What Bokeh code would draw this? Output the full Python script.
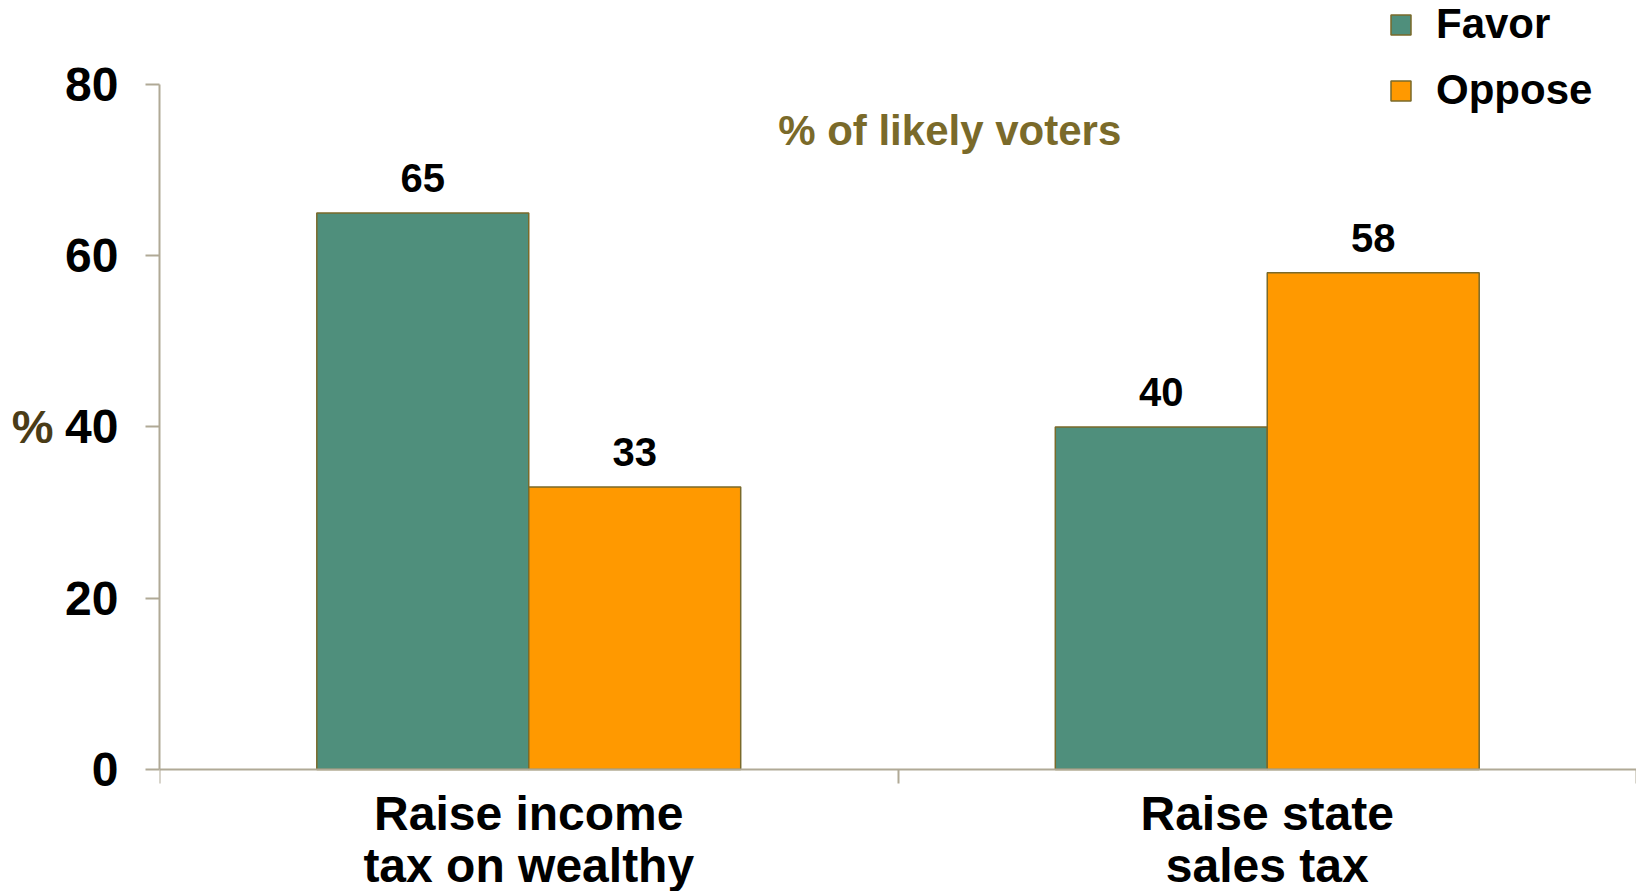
from bokeh.plotting import figure
from bokeh.models import (ColumnDataSource, FixedTicker, Range1d, LabelSet, Label,
                          Legend, LegendItem, LinearAxis)
from bokeh.core.properties import value
from bokeh.embed import file_html
from bokeh.resources import INLINE

# ---- data ----
categories = ["Raise income\ntax on wealthy", "Raise state\nsales tax"]
favor = [65, 40]
oppose = [33, 58]
series_names = ["Favor", "Oppose"]
y_ticks = [0, 20, 40, 60, 80]
title_text = "% of likely voters"
y_label = "%"

# ---- styles ----
FONT = "Liberation Sans"
GREEN = "#4f8f7c"
ORANGE = "#ff9900"
OLIVE = "#7a6a2a"
DARK_OLIVE = "#4a3c17"
AXIS = "#b0a996"
BAR_W = 0.287

n = len(categories)
centers = [i + 0.5 for i in range(n)]
src_f = ColumnDataSource(dict(x=[c - BAR_W / 2 for c in centers], top=favor,
                              lab=[str(v) for v in favor]))
src_o = ColumnDataSource(dict(x=[c + BAR_W / 2 for c in centers], top=oppose,
                              lab=[str(v) for v in oppose]))

p = figure(width=1636, height=891, output_backend="svg", toolbar_location=None,
           x_range=Range1d(0, n), y_range=Range1d(-14.25, 89.81),
           min_border_left=159, min_border_right=0, min_border_top=0,
           min_border_bottom=0, outline_line_color=None)
p.grid.visible = False

rf = p.vbar(x="x", top="top", width=BAR_W, source=src_f, fill_color=GREEN,
            line_color=OLIVE, line_width=1.5)
ro = p.vbar(x="x", top="top", width=BAR_W, source=src_o, fill_color=ORANGE,
            line_color=OLIVE, line_width=1.5)

for s in (src_f, src_o):
    p.add_layout(LabelSet(x="x", y="top", text="lab", source=s, y_offset=21,
                          text_align="center", text_baseline="alphabetic",
                          text_font=value(FONT), text_font_size=value("40px"),
                          text_font_style=value("bold"), text_color="black"))

# y axis
ya = p.yaxis[0]
ya.ticker = FixedTicker(ticks=y_ticks)
ya.bounds = (0, 80)
ya.axis_line_color = AXIS
ya.axis_line_width = 2
ya.major_tick_line_color = AXIS
ya.major_tick_line_width = 2
ya.major_tick_out = 14
ya.major_tick_in = 0
ya.minor_tick_line_color = None
ya.major_label_text_font = FONT
ya.major_label_text_font_size = "48px"
ya.major_label_text_font_style = "bold"
ya.major_label_text_color = "black"
ya.major_label_standoff = 27

# "%" as an outer left axis with a single labelled tick at 40
pa = LinearAxis(ticker=FixedTicker(ticks=[40]), major_label_overrides={40: y_label},
                axis_line_color=None, major_tick_line_color=None,
                minor_tick_line_color=None, major_tick_out=0, major_tick_in=0,
                major_label_standoff=9, major_label_text_font=FONT,
                major_label_text_font_size="47px",
                major_label_text_font_style="bold",
                major_label_text_color=DARK_OLIVE)
p.add_layout(pa, "left")

# x axis fixed at y = 0
xa = p.xaxis[0]
xa.fixed_location = 0
xa.ticker = FixedTicker(ticks=centers, minor_ticks=list(range(n + 1)))
xa.major_label_overrides = {c: lab for c, lab in zip(centers, categories)}
xa.axis_line_color = AXIS
xa.axis_line_width = 2
xa.major_tick_line_color = None
xa.major_tick_out = 0
xa.major_tick_in = 0
xa.minor_tick_line_color = AXIS
xa.minor_tick_line_width = 2
xa.minor_tick_out = 14
xa.minor_tick_in = 0
xa.major_label_text_font = FONT
xa.major_label_text_font_size = "48px"
xa.major_label_text_font_style = "bold"
xa.major_label_text_color = "black"
xa.major_label_text_line_height = 0.97
xa.major_label_standoff = 4

# title inside plot
p.add_layout(Label(x=1.07, y=74.6, text=title_text, text_align="center",
                   text_baseline="alphabetic", text_font=FONT,
                   text_font_size="42px", text_font_style="bold",
                   text_color=OLIVE))

legend = Legend(items=[LegendItem(label=series_names[0], renderers=[rf]),
                       LegendItem(label=series_names[1], renderers=[ro])],
                location=(1229, 777), orientation="vertical",
                glyph_width=25, glyph_height=25, label_standoff=23,
                spacing=18, padding=0, margin=0,
                border_line_alpha=0, background_fill_alpha=0,
                label_text_font=FONT, label_text_font_size="42px",
                label_text_font_style="bold", label_text_color="black")
p.add_layout(legend, "center")

open("out.html", "w").write(file_html(p, INLINE))
